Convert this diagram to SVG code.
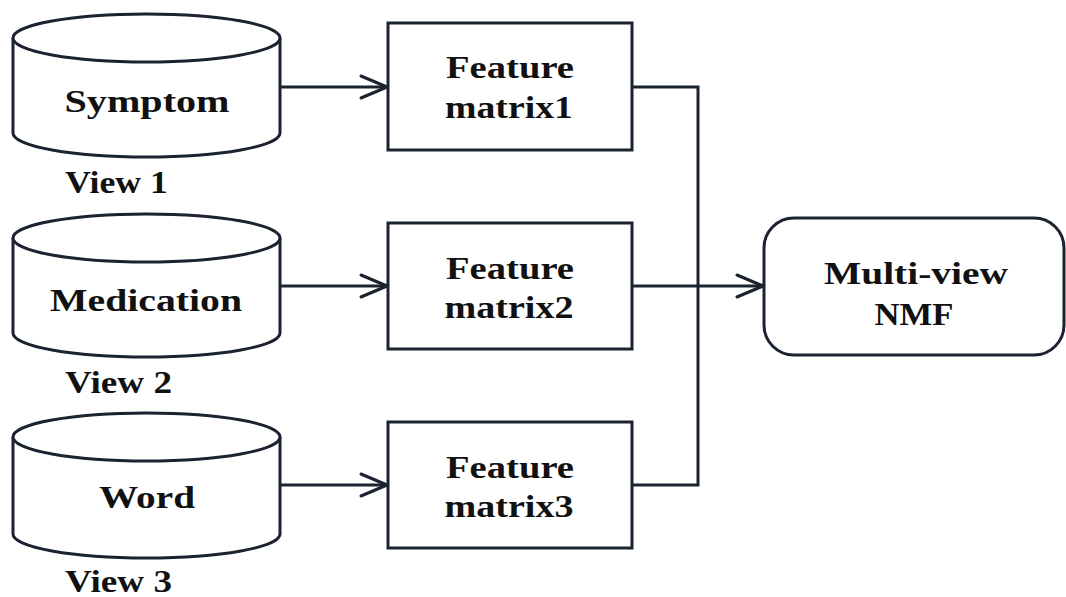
<svg xmlns="http://www.w3.org/2000/svg" width="1066" height="597" viewBox="0 0 1066 597">
  <style>
    .shape { fill: #ffffff; stroke: #1b2230; stroke-width: 3; }
    .line { fill: none; stroke: #1b2230; stroke-width: 3; }
    .label { font-family: 'Liberation Serif', 'Times New Roman', Times, serif; font-weight: 700; font-size: 32px; fill: #111111; }
    .mid { text-anchor: middle; }
  </style>
  <defs>
    <marker id="chevron" markerUnits="userSpaceOnUse" markerWidth="30" markerHeight="26" viewBox="0 0 30 26" refX="28" refY="13" orient="auto">
      <path d="M2,2 L28,13 L2,24" fill="none" stroke="#1b2230" stroke-width="3" stroke-linecap="round" stroke-linejoin="round"/>
    </marker>
  </defs>
  <rect width="1066" height="597" fill="#ffffff"/>

  <!-- view databases -->
  <g id="symptom">
    <path class="shape" d="M13,38 L13,133 A133.5,24 0 0 0 280,133 L280,38"/>
    <ellipse class="shape" cx="146.5" cy="38" rx="133.5" ry="24"/>
    <text class="label mid" x="147" y="112" textLength="165" lengthAdjust="spacingAndGlyphs">Symptom</text>
    <text class="label" x="65" y="193" textLength="103" lengthAdjust="spacingAndGlyphs">View 1</text>
  </g>
  <g id="medication">
    <path class="shape" d="M13,238 L13,333 A133.5,24 0 0 0 280,333 L280,238"/>
    <ellipse class="shape" cx="146.5" cy="238" rx="133.5" ry="24"/>
    <text class="label mid" x="146" y="311" textLength="192" lengthAdjust="spacingAndGlyphs">Medication</text>
    <text class="label" x="65" y="393" textLength="107" lengthAdjust="spacingAndGlyphs">View 2</text>
  </g>
  <g id="word">
    <path class="shape" d="M13,437 L13,534 A133.5,24 0 0 0 280,534 L280,437"/>
    <ellipse class="shape" cx="146.5" cy="437" rx="133.5" ry="24"/>
    <text class="label mid" x="147" y="508" textLength="96" lengthAdjust="spacingAndGlyphs">Word</text>
    <text class="label" x="65" y="592" textLength="107" lengthAdjust="spacingAndGlyphs">View 3</text>
  </g>

  <!-- feature matrices -->
  <g id="matrix1">
    <rect class="shape" x="388" y="23" width="244" height="127"/>
    <text class="label mid" x="510" y="78" textLength="128" lengthAdjust="spacingAndGlyphs">Feature</text>
    <text class="label mid" x="509" y="118" textLength="128" lengthAdjust="spacingAndGlyphs">matrix1</text>
  </g>
  <g id="matrix2">
    <rect class="shape" x="388" y="223" width="244" height="126"/>
    <text class="label mid" x="510" y="279" textLength="128" lengthAdjust="spacingAndGlyphs">Feature</text>
    <text class="label mid" x="509" y="318" textLength="129" lengthAdjust="spacingAndGlyphs">matrix2</text>
  </g>
  <g id="matrix3">
    <rect class="shape" x="388" y="422" width="244" height="126"/>
    <text class="label mid" x="510" y="478" textLength="128" lengthAdjust="spacingAndGlyphs">Feature</text>
    <text class="label mid" x="509" y="517" textLength="129" lengthAdjust="spacingAndGlyphs">matrix3</text>
  </g>

  <!-- fusion step -->
  <g id="nmf">
    <rect class="shape" x="764" y="218" width="300" height="137" rx="30" ry="30"/>
    <text class="label mid" x="916" y="284" textLength="184" lengthAdjust="spacingAndGlyphs">Multi-view</text>
    <text class="label mid" x="914" y="325" textLength="79" lengthAdjust="spacingAndGlyphs">NMF</text>
  </g>

  <!-- connectors -->
  <g id="connectors">
    <line class="line" x1="280" y1="87" x2="387" y2="87" marker-end="url(#chevron)"/>
    <line class="line" x1="280" y1="286" x2="387" y2="286" marker-end="url(#chevron)"/>
    <line class="line" x1="280" y1="485" x2="387" y2="485" marker-end="url(#chevron)"/>
    <polyline class="line" points="632,87 698,87 698,485 632,485"/>
    <line class="line" x1="632" y1="286" x2="763" y2="286" marker-end="url(#chevron)"/>
  </g>
</svg>
